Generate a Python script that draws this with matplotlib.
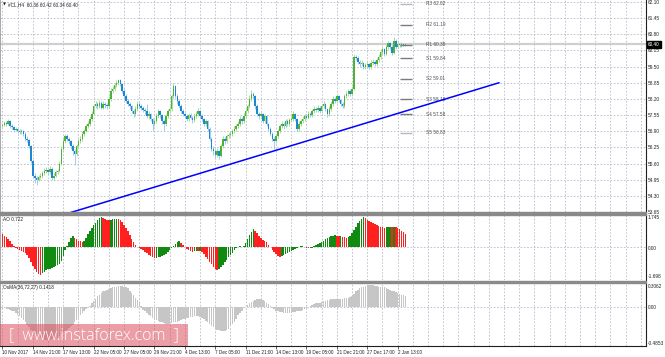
import matplotlib
matplotlib.use("Agg")
import matplotlib.pyplot as plt
from matplotlib.patches import Rectangle
import numpy as np

plt.rcParams['font.family'] = ['Liberation Sans', 'DejaVu Sans']

# #CL H4 bars (open of each bar = previous close)
first_open = 57.10
closes = [
    57.15, 57.25, 57.20, 57.30, 57.10, 57.05, 56.95, 57.00, 56.90, 56.85,
    56.90, 56.80, 56.60, 56.55, 56.30, 55.70, 55.10, 55.00, 54.95, 55.05,
    55.10, 55.20, 55.30, 55.35, 55.25, 55.40, 55.00, 55.10, 55.25, 55.30,
    55.60, 56.20, 56.50, 56.70, 56.60, 56.50, 56.30, 56.10, 56.00, 56.30,
    56.50, 56.60, 56.80, 56.90, 57.10, 57.20, 57.40, 57.60, 57.90, 58.00,
    57.90, 58.05, 57.85, 58.00, 57.95, 57.90, 58.20, 58.50, 58.60, 58.75,
    58.85, 58.95, 58.80, 58.50, 58.30, 58.10, 58.00, 57.90, 57.70, 57.60,
    57.80, 58.00, 57.90, 57.85, 57.75, 57.70, 57.50, 57.60, 57.40, 57.20,
    57.30, 57.50, 57.70, 57.55, 57.30, 57.20, 57.50, 57.70, 57.80, 58.30,
    58.70, 58.30, 58.10, 57.90, 57.70, 57.60, 57.50, 57.40, 57.55, 57.45,
    57.35, 57.50, 57.60, 57.70, 57.50, 57.40, 57.20, 57.30, 57.00, 56.60,
    56.20, 56.10, 55.95, 56.10, 55.90, 56.30, 56.60, 56.50, 56.70, 56.75,
    56.80, 56.90, 57.00, 57.10, 57.20, 57.40, 57.30, 57.50, 57.70, 57.90,
    58.20, 58.40, 58.30, 57.90, 57.60, 57.50, 57.60, 57.30, 57.50, 57.20,
    57.00, 56.80, 56.60, 56.50, 56.70, 56.90, 57.10, 57.20, 57.10, 57.30,
    57.20, 57.35, 57.40, 57.60, 57.40, 57.00, 57.20, 57.30, 57.40, 57.50,
    57.45, 57.60, 57.55, 57.70, 57.80, 57.75, 57.85, 57.70, 57.90, 58.00,
    57.80, 57.60, 57.80, 58.00, 58.20, 58.10, 58.30, 58.15, 58.00, 57.90,
    58.30, 58.40, 58.50, 58.40, 58.60, 59.90, 59.85, 59.70, 59.60, 59.65,
    59.50, 59.55, 59.60, 59.50, 59.65, 59.70, 59.60, 59.75, 59.90, 60.10,
    60.20, 60.00, 60.30, 60.45, 60.30, 60.05, 60.55, 60.30, 60.40, 60.35,
    60.42, 60.36, 60.40,
]
highs = [
    57.25, 57.32, 57.30, 57.38, 57.35, 57.18, 57.10, 57.08, 57.05, 56.98,
    57.00, 56.95, 56.85, 56.70, 56.60, 56.35, 55.78, 55.20, 55.08, 55.15,
    55.22, 55.30, 55.42, 55.48, 55.40, 55.50, 55.45, 55.22, 55.35, 55.40,
    55.70, 56.30, 56.62, 56.80, 56.78, 56.68, 56.55, 56.38, 56.18, 56.40,
    56.60, 56.70, 56.90, 57.00, 57.20, 57.30, 57.50, 57.72, 58.00, 58.10,
    58.08, 58.15, 58.10, 58.10, 58.08, 58.02, 58.30, 58.62, 58.72, 58.85,
    58.95, 59.02, 59.00, 58.85, 58.58, 58.38, 58.18, 58.08, 57.95, 57.78,
    57.90, 58.10, 58.08, 57.98, 57.92, 57.85, 58.00, 57.70, 57.65, 57.45,
    57.40, 57.62, 57.80, 57.75, 57.60, 57.38, 57.60, 57.80, 57.92, 58.40,
    58.85, 58.75, 58.38, 58.18, 57.98, 57.78, 57.68, 57.58, 57.65, 57.62,
    57.52, 57.62, 57.72, 57.85, 57.75, 57.58, 57.45, 57.40, 57.35, 57.05,
    56.65, 56.30, 56.18, 56.22, 56.15, 56.40, 56.70, 56.68, 56.80, 56.85,
    56.90, 57.00, 57.10, 57.20, 57.30, 57.50, 57.48, 57.62, 57.80, 58.00,
    58.35, 58.55, 58.48, 58.35, 57.98, 57.68, 57.72, 57.65, 57.60, 57.55,
    57.25, 57.05, 56.85, 56.68, 56.80, 57.00, 57.20, 57.30, 57.28, 57.40,
    57.38, 57.45, 57.50, 57.72, 57.65, 57.45, 57.30, 57.40, 57.50, 57.60,
    57.58, 57.70, 57.68, 57.80, 57.90, 57.88, 57.95, 57.92, 58.00, 58.12,
    58.05, 57.85, 57.90, 58.10, 58.30, 58.28, 58.40, 58.35, 58.20, 58.08,
    58.40, 58.50, 58.60, 58.58, 58.70, 60.02, 59.98, 59.92, 59.78, 59.75,
    59.70, 59.65, 59.70, 59.65, 59.75, 59.80, 59.75, 59.85, 60.00, 60.20,
    60.32, 60.25, 60.40, 60.55, 60.50, 60.35, 60.68, 60.60, 60.48, 60.45,
    60.48, 60.45, 60.42,
]
lows = [
    57.02, 57.10, 57.12, 57.15, 57.02, 56.98, 56.88, 56.90, 56.82, 56.78,
    56.80, 56.72, 56.52, 56.45, 56.22, 55.62, 55.00, 54.80, 54.75, 54.88,
    54.98, 55.02, 55.12, 55.22, 55.15, 55.18, 54.92, 54.95, 55.05, 55.18,
    55.25, 55.55, 56.12, 56.42, 56.50, 56.40, 56.20, 55.95, 55.55, 55.92,
    56.22, 56.42, 56.52, 56.72, 56.85, 57.02, 57.12, 57.32, 57.55, 57.82,
    57.80, 57.82, 57.78, 57.78, 57.85, 57.80, 57.85, 58.12, 58.42, 58.52,
    58.68, 58.78, 58.70, 58.42, 58.22, 58.02, 57.90, 57.80, 57.62, 57.48,
    57.52, 57.72, 57.82, 57.75, 57.68, 57.60, 57.42, 57.40, 57.30, 56.90,
    57.10, 57.22, 57.42, 57.45, 57.20, 56.90, 57.12, 57.42, 57.62, 57.72,
    58.22, 58.22, 58.00, 57.82, 57.62, 57.50, 57.42, 57.30, 57.32, 57.38,
    57.25, 57.28, 57.42, 57.52, 57.42, 57.30, 57.12, 57.12, 56.90, 56.50,
    56.10, 55.95, 55.80, 55.85, 55.78, 55.85, 56.22, 56.40, 56.42, 56.62,
    56.68, 56.72, 56.82, 56.92, 57.02, 57.12, 57.20, 57.22, 57.42, 57.62,
    57.82, 58.12, 58.20, 57.80, 57.50, 57.40, 57.42, 57.22, 57.22, 57.10,
    56.90, 56.70, 56.50, 56.20, 56.42, 56.62, 56.82, 57.02, 57.00, 57.02,
    57.12, 57.12, 57.28, 57.32, 57.30, 56.92, 56.92, 57.12, 57.22, 57.32,
    57.38, 57.38, 57.48, 57.48, 57.62, 57.68, 57.68, 57.62, 57.62, 57.82,
    57.72, 57.48, 57.52, 57.72, 57.92, 58.02, 58.02, 58.08, 57.92, 57.82,
    57.85, 58.22, 58.32, 58.32, 58.32, 58.55, 59.75, 59.62, 59.50, 59.52,
    59.42, 59.40, 59.48, 59.42, 59.42, 59.58, 59.52, 59.52, 59.68, 59.82,
    60.02, 59.92, 59.95, 60.22, 60.20, 59.98, 60.00, 60.22, 60.25, 60.28,
    60.30, 60.32, 60.34,
]

# Awesome Oscillator
ao = [
    0.68, 0.62, 0.55, 0.45, 0.33, 0.20, 0.08, -0.05, -0.10, -0.14,
    -0.18, -0.22, -0.30, -0.40, -0.55, -0.75, -0.95, -1.12, -1.26, -1.36,
    -1.42, -1.35, -1.28, -1.20, -1.14, -1.10, -1.06, -1.02, -0.98, -0.92,
    -0.85, -0.70, -0.45, -0.15, 0.10, 0.30, 0.48, 0.58, 0.50, 0.42,
    0.36, 0.32, 0.28, 0.35, 0.50, 0.68, 0.85, 1.00, 1.15, 1.30,
    1.45, 1.55, 1.58, 1.56, 1.50, 1.45, 1.42, 1.44, 1.47, 1.49,
    1.50, 1.48, 1.42, 1.32, 1.18, 1.02, 0.85, 0.65, 0.45, 0.28,
    0.12, 0.02, -0.05, -0.10, -0.15, -0.22, -0.30, -0.38, -0.45, -0.52,
    -0.55, -0.54, -0.52, -0.50, -0.46, -0.40, -0.32, -0.22, -0.12, -0.02,
    0.10, 0.20, 0.28, 0.33, 0.25, 0.12, 0.02, -0.08, -0.15, -0.20,
    -0.22, -0.20, -0.18, -0.20, -0.19, -0.24, -0.35, -0.50, -0.62, -0.75,
    -0.88, -1.00, -1.10, -1.18, -1.12, -1.02, -0.90, -0.78, -0.65, -0.52,
    -0.40, -0.28, -0.15, -0.05, 0.02, 0.05, 0.03, 0.08, 0.25, 0.45,
    0.65, 0.82, 0.95, 0.88, 0.75, 0.60, 0.48, 0.40, 0.35, 0.30,
    0.15, 0.00, -0.12, -0.24, -0.34, -0.42, -0.50, -0.46, -0.40, -0.35,
    -0.30, -0.25, -0.20, -0.15, -0.10, -0.05, 0.00, 0.05, 0.08, 0.04,
    -0.02, -0.05, -0.04, -0.01, 0.05, 0.12, 0.18, 0.24, 0.30, 0.36,
    0.42, 0.48, 0.53, 0.58, 0.62, 0.63, 0.60, 0.58, 0.59, 0.56,
    0.52, 0.50, 0.53, 0.62, 0.75, 0.90, 1.08, 1.25, 1.40, 1.50,
    1.58, 1.52, 1.45, 1.38, 1.32, 1.26, 1.20, 1.15, 1.10, 1.07,
    1.05, 1.03, 1.05, 1.07, 1.08, 1.06, 1.07, 1.05, 1.00, 0.95,
    0.88, 0.80, 0.722,
]

# OsMA(36,72,27)
osma = [
    -0.01, -0.01, -0.02, -0.02, -0.03, -0.04, -0.05, -0.07, -0.09, -0.11,
    -0.13, -0.16, -0.19, -0.22, -0.25, -0.28, -0.31, -0.34, -0.36, -0.38,
    -0.39, -0.40, -0.41, -0.41, -0.41, -0.41, -0.40, -0.40, -0.39, -0.38,
    -0.36, -0.34, -0.32, -0.30, -0.28, -0.26, -0.24, -0.22, -0.19, -0.16,
    -0.13, -0.10, -0.07, -0.05, -0.02, 0.00, 0.02, 0.05, 0.08, 0.11,
    0.14, 0.16, 0.18, 0.20, 0.21, 0.22, 0.23, 0.24, 0.25, 0.26,
    0.26, 0.27, 0.27, 0.27, 0.26, 0.26, 0.24, 0.21, 0.18, 0.15,
    0.12, 0.09, 0.05, 0.02, -0.03, -0.05, -0.07, -0.09, -0.11, -0.13,
    -0.14, -0.16, -0.17, -0.18, -0.19, -0.20, -0.21, -0.21, -0.21, -0.20,
    -0.19, -0.18, -0.18, -0.17, -0.16, -0.15, -0.14, -0.13, -0.13, -0.12,
    -0.12, -0.11, -0.11, -0.11, -0.12, -0.13, -0.15, -0.17, -0.19, -0.21,
    -0.23, -0.25, -0.27, -0.28, -0.29, -0.30, -0.30, -0.30, -0.29, -0.27,
    -0.24, -0.21, -0.18, -0.14, -0.10, -0.07, -0.04, -0.01, 0.01, 0.03,
    0.05, 0.07, 0.08, 0.09, 0.10, 0.10, 0.10, 0.09, 0.08, 0.06,
    0.04, 0.02, -0.01, -0.02, -0.04, -0.05, -0.06, -0.06, -0.07, -0.07,
    -0.07, -0.07, -0.06, -0.06, -0.06, -0.05, -0.05, -0.04, -0.03, -0.02,
    -0.01, 0.01, 0.02, 0.03, 0.04, 0.05, 0.06, 0.06, 0.07, 0.08,
    0.08, 0.09, 0.09, 0.10, 0.10, 0.10, 0.11, 0.11, 0.11, 0.11,
    0.12, 0.12, 0.12, 0.13, 0.14, 0.17, 0.20, 0.22, 0.24, 0.25,
    0.26, 0.27, 0.27, 0.28, 0.28, 0.28, 0.27, 0.27, 0.26, 0.26,
    0.25, 0.25, 0.24, 0.23, 0.22, 0.21, 0.20, 0.19, 0.18, 0.17,
    0.16, 0.15, 0.1418,
]

time_labels = ["10 Nov 2017", "14 Nov 21:00", "17 Nov 13:00", "22 Nov 05:00",
               "27 Nov 05:00", "29 Nov 21:00", "4 Dec 13:00", "7 Dec 05:00",
               "11 Dec 21:00", "14 Dec 13:00", "19 Dec 05:00", "21 Dec 21:00",
               "27 Dec 17:00", "2 Jan 13:00"]
bars_per_label = 16

price_ticks = [53.65, 54.30, 54.95, 55.60, 56.25, 56.90, 57.55, 58.20,
               58.85, 59.50, 60.15, 60.80, 61.45, 62.10]
ao_scale = [-1.698, 0.0, 1.745]
osma_scale = [-0.4853, 0.0, 0.3062]

pivot_names = ["R3", "R2", "R1", "S1", "S2", "S3", "S4", "S5"]
pivot_values = [62.02, 61.19, 60.38, 59.84, 59.01, 58.18, 57.58, 56.83]

# trend line anchors (bar index, price)
trend_bars = [35.5, 261.3]
trend_prices = [53.62, 58.85]

header = "#CL,H4  60.36 60.42 60.34 60.40"
last_price = 60.40

# ---------------------------------------------------------------
W, H = 665, 357
FS = 3.4
TXT = '#202020'
GRID = dict(color='#b4bccb', lw=0.6, ls=(0, (2, 2)))

fig = plt.figure(figsize=(W / 100, H / 100), dpi=100)
fig.patch.set_facecolor('white')


def panel(top, bottom):
    return [0, 1 - bottom / H, 646 / W, (bottom - top) / H]


def fy(px):
    return 1 - px / H


ax = fig.add_axes(panel(0, 212))
ax_ao = fig.add_axes(panel(214, 280), sharex=ax)
ax_os = fig.add_axes(panel(283, 346), sharex=ax)

idx = np.arange(len(closes))
c = np.array(closes)
o = np.array([first_open] + closes[:-1])
hi = np.array(highs)
lo = np.array(lows)
up = c >= o

# candles
ax.axhline(last_price, color='#cfcfcf', lw=1.6, zorder=1)
ax.vlines(idx[up], lo[up], hi[up], color='#a9dc9a', lw=0.7, zorder=2)
ax.vlines(idx[~up], lo[~up], hi[~up], color='#9fcdee', lw=0.7, zorder=2)
body_lo = np.minimum(o, c)
body_h = np.maximum(np.abs(c - o), 0.03)
ax.bar(idx[up], body_h[up], bottom=body_lo[up], width=0.8, color='#4db337',
       linewidth=0, zorder=3)
ax.bar(idx[~up], body_h[~up], bottom=body_lo[~up], width=0.8, color='#1c88d2',
       linewidth=0, zorder=3)

ax.plot(trend_bars, trend_prices, color='#0000ff', lw=1.1, zorder=4)

# pivot levels
for name, val in zip(pivot_names, pivot_values):
    col = '#b8b8b8' if name in ("R3", "S5") else '#7c7c7c'
    ax.hlines(val, 209, 215.5, color=col, lw=1.0, zorder=3)
    ax.text(223, val, f"{name} {val:.2f}", fontsize=FS, color='#505050',
            va='center', ha='left')

ax.set_ylim(53.65, 62.18)
ax.set_yticks(price_ticks)
ax.set_yticklabels([f"{v:.2f}" for v in price_ticks])
ax.yaxis.tick_right()
ax.tick_params(axis='y', length=0, pad=1.5, labelsize=FS, labelcolor=TXT)
ax.grid(axis='y', **GRID)

ax.annotate(f"{last_price:.2f}", xy=(1, last_price),
            xycoords=('axes fraction', 'data'), xytext=(1.6, 0),
            textcoords='offset points', fontsize=FS, color='white',
            ha='left', va='center', annotation_clip=False,
            bbox=dict(boxstyle='square,pad=0.25', fc='black', ec='black'))

# AO
ao_arr = np.array(ao)
ao_col = ['#ff2020' if i == 0 or ao_arr[i] < ao_arr[i - 1] else '#108a10'
          for i in range(len(ao_arr))]
ax_ao.bar(idx, ao_arr, width=0.78, color=ao_col, linewidth=0, zorder=3)
ax_ao.set_ylim(ao_scale[0], ao_scale[2])
ax_ao.axhline(0, **GRID)

# OsMA
ax_os.bar(idx, osma, width=0.8, color='#c6c6c6', linewidth=0, zorder=3)
ax_os.set_ylim(osma_scale[0], osma_scale[2])
ax_os.axhline(0, **GRID)

for a in (ax_ao, ax_os):
    a.set_yticks([])

for a in (ax, ax_ao, ax_os):
    a.set_xlim(-1.3, 338.7)
    a.set_xticks(np.arange(0, 339, 8), minor=True)
    a.grid(axis='x', which='both', **GRID)
    a.set_axisbelow(True)
    for s in ('top', 'bottom'):
        a.spines[s].set_visible(False)
    a.spines['left'].set_color('#9a9a9a')
    a.spines['left'].set_linewidth(0.6)
    a.spines['right'].set_color('#202020')
    a.spines['right'].set_linewidth(0.8)
    a.tick_params(axis='x', which='minor', length=0)

ax.tick_params(axis='x', which='major', length=0, labelbottom=False)
ax_ao.tick_params(axis='x', which='major', length=0, labelbottom=False)

ax_os.spines['bottom'].set_visible(True)
ax_os.spines['bottom'].set_color('#202020')
ax_os.spines['bottom'].set_linewidth(0.8)
ax_os.set_xticks(np.arange(len(time_labels)) * bars_per_label)
ax_os.set_xticklabels(time_labels, ha='left')
ax_os.tick_params(axis='x', which='major', length=2, width=0.5, pad=0.6,
                  labelsize=FS - 0.1, labelcolor=TXT, color='#202020')

# value scales of the sub windows
fig.text(648 / W, fy(217.5), f"{ao_scale[2]:.3f}", fontsize=FS, color=TXT, va='center')
fig.text(648 / W, fy(249), "0.00", fontsize=FS, color=TXT, va='center')
fig.text(648 / W, fy(277), f"{ao_scale[0]:.3f}", fontsize=FS, color=TXT, va='center')
fig.text(648 / W, fy(286), f"{osma_scale[2]:.4f}", fontsize=FS, color=TXT, va='center')
fig.text(648 / W, fy(307.5), "0.00", fontsize=FS, color=TXT, va='center')
fig.text(648 / W, fy(343.5), f"{osma_scale[0]:.4f}", fontsize=FS, color=TXT, va='center')

# panel separators
for top in (212, 280.5):
    fig.patches.append(Rectangle((0, fy(top + 2.5)), 646 / W, 2.5 / H,
                                 transform=fig.transFigure, color='#8a8a8a'))

# window captions
fig.text(2.5 / W, fy(4.5), "\u25bc", fontsize=FS - 0.6, color=TXT, va='center',
         family=['DejaVu Sans'])
fig.text(8 / W, fy(4.5), header, fontsize=FS, color=TXT, va='center')
fig.text(3 / W, fy(219), f"AO {ao[-1]:.3f}", fontsize=FS, color=TXT, va='center')
fig.text(3 / W, fy(288), f"OsMA(36,72,27) {osma[-1]:.4f}", fontsize=FS,
         color=TXT, va='center')

# watermark
fig.patches.append(Rectangle((0, fy(346)), 188 / W, 22 / H,
                             transform=fig.transFigure, facecolor='#dc4f5c',
                             alpha=0.55, linewidth=0, zorder=5))
fig.text(94 / W, fy(335), "[  www.instaforex.com  ]", fontsize=11.5,
         color='white', ha='center', va='center', zorder=6,
         family=['Open Sans', 'DejaVu Sans'], fontweight='light')

fig.savefig('out.png', dpi=100, facecolor='white')
